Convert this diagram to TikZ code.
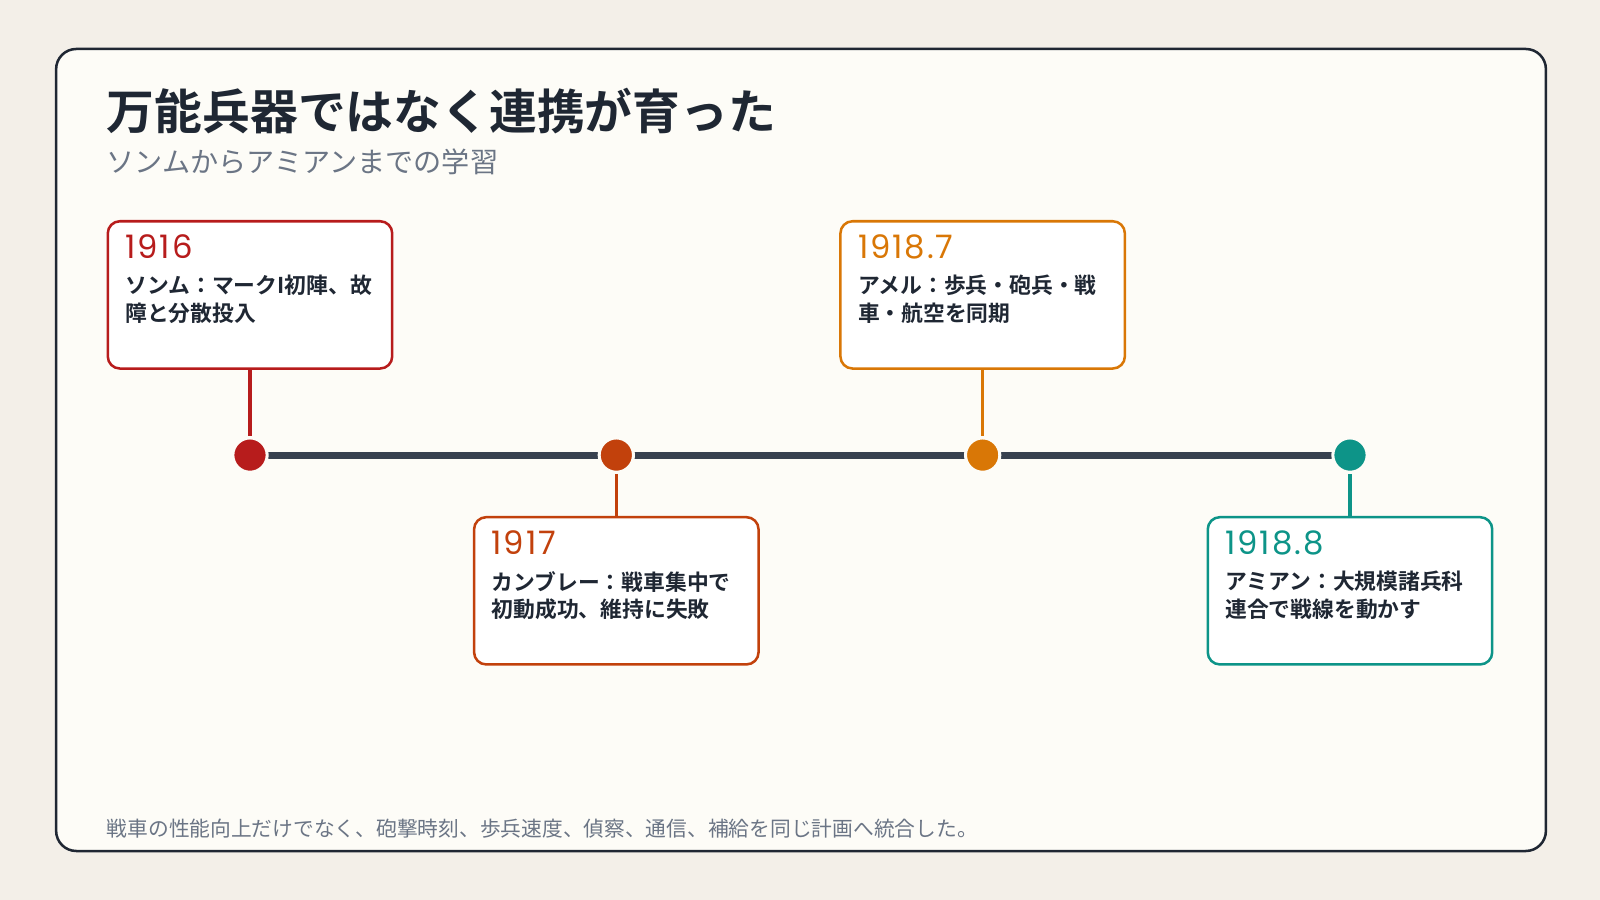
\documentclass[tikz,border=0pt]{standalone}
\usepackage{fontspec}
\setmainfont{Noto Sans CJK JP}
\newfontfamily\jpbold{Noto Sans CJK JP Bold}
\newfontfamily\yearfont{Poppins}[LetterSpace=6]
\usetikzlibrary{positioning}
\definecolor{pagebg}{HTML}{F3EFE8}
\definecolor{cardbg}{HTML}{FDFCF7}
\definecolor{ink}{HTML}{1F2733}
\definecolor{muted}{HTML}{6B7585}
\definecolor{axis}{HTML}{37414F}
\definecolor{evA}{HTML}{B71C1C}
\definecolor{evB}{HTML}{C2410C}
\definecolor{evC}{HTML}{D97706}
\definecolor{evD}{HTML}{0D9488}
\tikzset{
  card/.style={rounded corners=20pt*0.287, draw=ink, line width=2.5pt*0.287, fill=cardbg},
  evbox/.style={rounded corners=12pt*0.287, draw=#1, line width=2.5pt*0.287, fill=white,
    minimum width=282pt*0.287, minimum height=146pt*0.287, inner sep=0pt},
  dot/.style={circle, fill=#1, draw=cardbg, line width=3pt*0.287, minimum size=34pt*0.287, inner sep=0pt},
  stem/.style={draw=#1, line width=3pt*0.287},
  year/.style={anchor=base west, text=#1, font=\yearfont\fontsize{9.2}{11}\selectfont, inner sep=0pt},
  desc/.style={anchor=north west, text=ink, align=left, inner sep=0pt,
    font=\jpbold\fontsize{6.2}{7.9}\selectfont}
}
\begin{document}
\begin{tikzpicture}[x=1cm/98, y=-1cm/98]
\useasboundingbox (0,0) rectangle (1568,882);
\fill[pagebg] (0,0) rectangle (1568,882);
\draw[card] (55,48) rectangle (1515,834);
% titles
\node[anchor=base west, inner sep=0pt, text=ink, font=\jpbold\fontsize{13.6}{16}\selectfont] (title) at (104,127) {万能兵器ではなく連携が育った};
\node[anchor=base west, inner sep=0pt, text=muted, font=\fontsize{8.0}{10}\selectfont] (subtitle) at (104,169) {ソンムからアミアンまでの学習};
% axis
\draw[axis, line width=7pt*0.287] (245,446) -- (1323,446);
% events: x, box centre y, colour, year, text
\foreach \x/\by/\col/\yr/\txt/\nm in {
  245/289/evA/1916/{ソンム：マークI初陣、故\\障と分散投入}/a,
  604/579/evB/1917/{カンブレー：戦車集中で\\初動成功、維持に失敗}/b,
  963/289/evC/1918.7/{アメル：歩兵・砲兵・戦\\車・航空を同期}/c,
  1323/579/evD/1918.8/{アミアン：大規模諸兵科\\連合で戦線を動かす}/d}{
  \node[evbox=\col] (box\nm) at (\x,\by) {};
  \node[dot=\col] (dot\nm) at (\x,446) {};
  \ifdim\by pt<446pt
    \draw[stem=\col] (box\nm.south) -- (dot\nm.north);
  \else
    \draw[stem=\col] (box\nm.north) -- (dot\nm.south);
  \fi
  \node[year=\col] (yr\nm) at ([xshift=18pt*0.287, yshift=-38pt*0.287]box\nm.north west) {\yr};
  \node[desc] (tx\nm) at ([xshift=18pt*0.287, yshift=-54pt*0.287]box\nm.north west) {\txt};
}
% footer
\node[anchor=base west, inner sep=0pt, text=muted, font=\fontsize{5.9}{7}\selectfont] (footer) at (104,820) {戦車の性能向上だけでなく、砲撃時刻、歩兵速度、偵察、通信、補給を同じ計画へ統合した。};
\end{tikzpicture}
\end{document}
